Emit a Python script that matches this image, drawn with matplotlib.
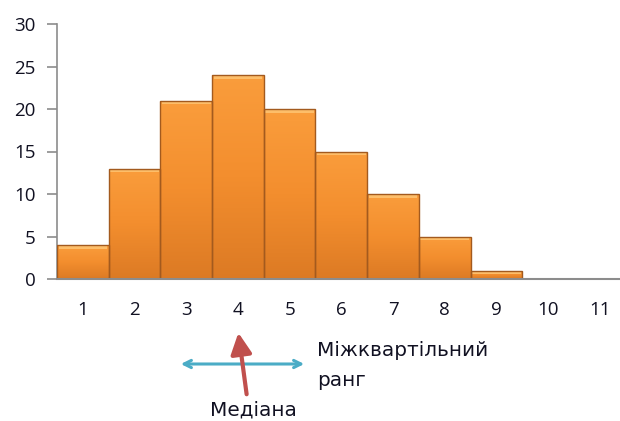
import matplotlib
matplotlib.use("Agg")
import matplotlib.pyplot as plt
import numpy as np
from matplotlib.colors import LinearSegmentedColormap

categories = [1, 2, 3, 4, 5, 6, 7, 8, 9, 10, 11]
values = [4, 13, 21, 24, 20, 15, 10, 5, 1, 0, 0]
yticks = [0, 5, 10, 15, 20, 25, 30]

plt.rcParams['font.family'] = ['Open Sans', 'DejaVu Sans']

W, H = 620, 421
fig = plt.figure(figsize=(W / 100, H / 100), dpi=100)
ax = fig.add_axes([57 / W, (H - 279) / H, 1 - 57 / W, (279 - 24) / H])

cmap = LinearSegmentedColormap.from_list('og', ['#DC7A24', '#F38E2E', '#FA9D3C'])
grad = np.linspace(0, 1, 256).reshape(-1, 1)

edges = ['#A35A1E' if v > 0 else 'none' for v in values]
bars = ax.bar(categories, values, width=1.0, color='none',
              edgecolor=edges, linewidth=1.0, zorder=3)
for b, v in zip(bars, values):
    if v <= 0:
        continue
    x0 = b.get_x()
    w = b.get_width()
    im = ax.imshow(grad, extent=(x0, x0 + w, 0, v), origin='lower', cmap=cmap,
                   aspect='auto', zorder=2)
    im.set_clip_path(b)
    hl = min(0.45, v * 0.5)
    ax.bar(b.get_x() + w / 2, hl, bottom=v - hl, width=w * 0.94,
           color='#FDBE6A', linewidth=0, zorder=2.6)

ax.set_xlim(0.5, 11.39)
ax.set_ylim(0, 30)
ax.set_yticks(yticks)
ax.set_xticks(categories)
ax.tick_params(axis='x', length=0, pad=16, labelsize=13.5, labelcolor='#111122')
ax.tick_params(axis='y', length=7.5, width=1.2, color='#8c8c8c', labelsize=13.5,
               labelcolor='#111122', pad=8)
for s in ['top', 'right']:
    ax.spines[s].set_visible(False)
ax.spines['left'].set_color('#8c8c8c')
ax.spines['bottom'].set_color('#8c8c8c')
ax.spines['left'].set_linewidth(1.2)
ax.spines['bottom'].set_linewidth(1.5)
ax.spines['bottom'].set_zorder(4)


def fy(y):
    return H - y


ax.annotate('', xy=(178, fy(364)), xytext=(307, fy(364)), xycoords='figure pixels',
            textcoords='figure pixels',
            arrowprops=dict(arrowstyle='<->', color='#4BACC6', lw=2.2,
                            mutation_scale=13), annotation_clip=False)
ax.annotate('', xy=(238, fy(330)), xytext=(247, fy(397)), xycoords='figure pixels',
            textcoords='figure pixels',
            arrowprops=dict(arrowstyle='-|>,head_width=0.45,head_length=0.9',
                            color='#C0504D', lw=3, mutation_scale=14),
            annotation_clip=False)
fig.text(317 / W, fy(351) / H, 'Міжквартільний', fontsize=14.4, va='center',
         ha='left', color='#111122', family='DejaVu Sans')
fig.text(317 / W, fy(380) / H, 'ранг', fontsize=14.4, va='center',
         ha='left', color='#111122', family='DejaVu Sans')
fig.text(253 / W, fy(410) / H, 'Медіана', fontsize=14.4, va='center',
         ha='center', color='#111122', family='DejaVu Sans')

fig.savefig('out.png', dpi=100)
